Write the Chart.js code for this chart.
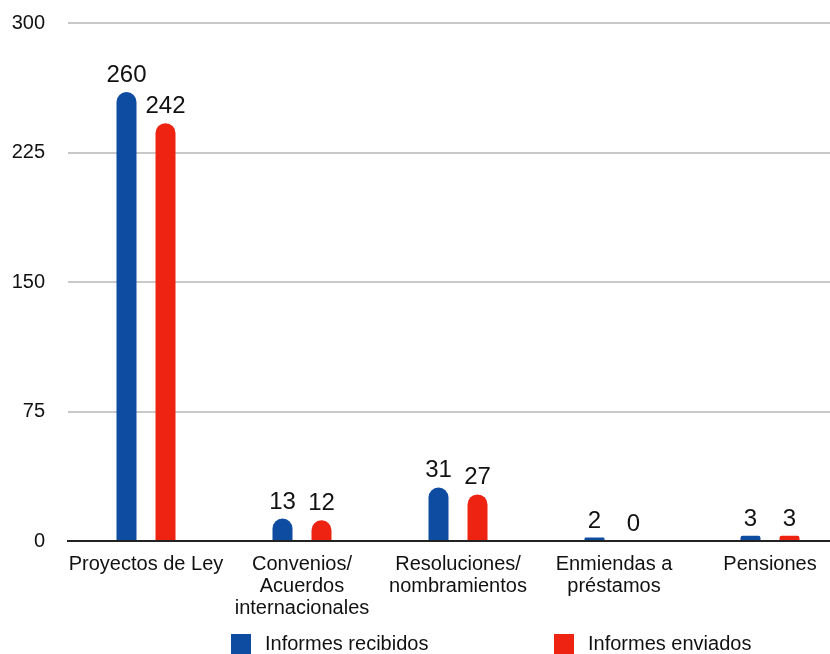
<!DOCTYPE html>
<html>
<head>
<meta charset="utf-8">
<script src="https://cdn.jsdelivr.net/npm/chart.js@4/dist/chart.umd.min.js"></script>
<style>
  html, body { margin: 0; padding: 0; background: #fff; overflow: hidden; }
  #wrap { width: 830px; height: 654px; overflow: hidden; }
</style>
</head>
<body>
<div id="wrap"><canvas id="c" width="862" height="654"></canvas></div>
<script>
const categories = [
  'Proyectos de Ley',
  ['Convenios/', 'Acuerdos', 'internacionales'],
  ['Resoluciones/', 'nombramientos'],
  ['Enmiendas a', 'préstamos'],
  'Pensiones'
];
const recibidos = [260, 13, 31, 2, 3];
const enviados = [242, 12, 27, 0, 3];
const yTicks = [0, 75, 150, 225, 300];

const FONT = '"Liberation Sans", Arial, Helvetica, sans-serif';

// value labels above each bar
const valueLabels = {
  id: 'valueLabels',
  afterDatasetsDraw(chart) {
    const ctx = chart.ctx;
    ctx.save();
    ctx.font = '24px ' + FONT;
    ctx.fillStyle = '#111';
    ctx.textAlign = 'center';
    ctx.textBaseline = 'alphabetic';
    chart.data.datasets.forEach((ds, i) => {
      chart.getDatasetMeta(i).data.forEach((bar, j) => {
        ctx.fillText(String(ds.data[j]), bar.x, bar.y - 10);
      });
    });
    ctx.restore();
  }
};

// legend drawn at the bottom, like the original
const bottomLegend = {
  id: 'bottomLegend',
  afterDraw(chart) {
    const ctx = chart.ctx;
    const starts = [231, 554];
    ctx.save();
    ctx.font = '20px ' + FONT;
    ctx.textBaseline = 'middle';
    ctx.textAlign = 'left';
    chart.data.datasets.forEach((ds, i) => {
      const x = starts[i];
      ctx.fillStyle = ds.backgroundColor;
      ctx.fillRect(x, 634, 20, 20);
      ctx.fillStyle = '#111';
      ctx.fillText(ds.label, x + 34, 644);
    });
    ctx.restore();
  }
};

new Chart(document.getElementById('c'), {
  type: 'bar',
  data: {
    labels: categories,
    datasets: [
      { label: 'Informes recibidos', data: recibidos, backgroundColor: '#0e4ca1', borderRadius: 10, borderSkipped: 'start' },
      { label: 'Informes enviados', data: enviados, backgroundColor: '#ee2312', borderRadius: 10, borderSkipped: 'start' }
    ]
  },
  options: {
    responsive: false,
    animation: false,
    devicePixelRatio: 1,
    layout: { padding: { top: 23, right: 14, bottom: 0, left: 0 } },
    datasets: { bar: { categoryPercentage: 0.5, barPercentage: 0.513 } },
    plugins: { legend: { display: false }, tooltip: { enabled: false } },
    scales: {
      x: {
        grid: { display: false, drawTicks: false },
        border: { display: true, color: '#222', width: 2 },
        ticks: { color: '#111', font: { family: FONT, size: 20, lineHeight: 1.08 }, padding: 13, maxRotation: 0, autoSkip: false },
        afterFit(scale) { scale.height = 113; }
      },
      y: {
        min: 0,
        max: 300,
        afterBuildTicks(scale) { scale.ticks = yTicks.map(v => ({ value: v })); },
        grid: {
          drawTicks: false,
          lineWidth: 2,
          color: c => (c.tick && c.tick.value === 0) ? 'rgba(0,0,0,0)' : '#c9c9c9'
        },
        border: { display: false },
        ticks: { color: '#111', font: { family: FONT, size: 20 }, padding: 23 },
        afterFit(scale) { scale.width = 68; scale.paddingTop = 0; scale.paddingBottom = 0; }
      }
    }
  },
  plugins: [valueLabels, bottomLegend]
});
</script>
</body>
</html>
